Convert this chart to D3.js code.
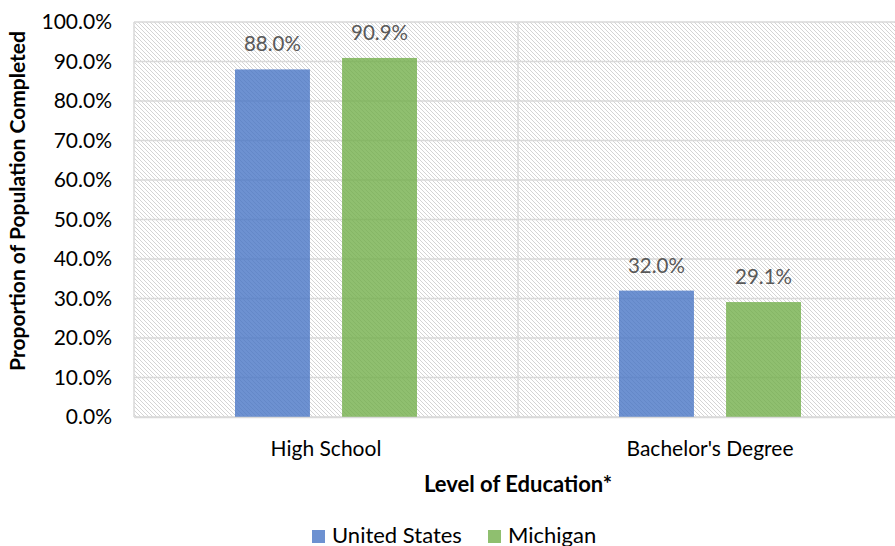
<!DOCTYPE html>
<head>
  <meta charset="utf-8">
  <script src="https://d3js.org/d3.v7.min.js"></script>
  <style>
    body { margin:0; background:#fff; }
    text { font-family: Lato, "Open Sans", sans-serif; }
  </style>
</head>
<body>
  <script>
    // data
    var categories = ["High School", "Bachelor's Degree"];
    var seriesNames = ["United States", "Michigan"];
    var unitedStates = [0.880, 0.320];
    var michigan = [0.909, 0.291];
    var yTicks = [0, 0.1, 0.2, 0.3, 0.4, 0.5, 0.6, 0.7, 0.8, 0.9, 1.0];

    var colors = ["#4472C4", "#70AD47"];

    var width = 895, height = 546;
    var margin = {top: 22, right: -7, bottom: 129, left: 134};

    var svg = d3.select("body").append("svg")
      .attr("width", width)
      .attr("height", height);

    var defs = svg.append("defs");
    var pat = defs.append("pattern")
      .attr("id", "hatch")
      .attr("patternUnits", "userSpaceOnUse")
      .attr("width", 4).attr("height", 4);
    pat.append("rect").attr("width", 4).attr("height", 4).attr("fill", "#fff");
    pat.append("path")
      .attr("d", "M-1,-1 L5,5 M-1,3 L1,5 M3,-1 L5,1")
      .attr("stroke", "#d4d4d4")
      .attr("stroke-width", 1);

    var x0 = d3.scaleBand()
      .domain(categories)
      .range([margin.left, width - margin.right]);

    var x1 = d3.scaleBand()
      .domain(seriesNames)
      .range([0, 182])
      .paddingInner(0.3);

    var y = d3.scaleLinear()
      .domain([0, 1])
      .range([height - margin.bottom, margin.top]);

    // plot background
    svg.append("rect")
      .attr("x", margin.left)
      .attr("y", margin.top)
      .attr("width", width - margin.right - margin.left)
      .attr("height", y(0) - y(1))
      .attr("fill", "url(#hatch)");

    // horizontal gridlines
    svg.append("g").selectAll("line").data(yTicks).enter().append("line")
      .attr("x1", margin.left)
      .attr("x2", width - margin.right)
      .attr("y1", function(d){ return y(d); })
      .attr("y2", function(d){ return y(d); })
      .attr("stroke", "#d9d9d9")
      .attr("stroke-width", 1.5);

    // vertical gridlines between categories
    var vLines = [margin.left, x0(categories[1])];
    svg.append("g").selectAll("line").data(vLines).enter().append("line")
      .attr("x1", function(d){ return d; })
      .attr("x2", function(d){ return d; })
      .attr("y1", y(1))
      .attr("y2", y(0))
      .attr("stroke", "#d9d9d9")
      .attr("stroke-width", 1.5);

    // bars
    var rows = categories.map(function(c, i){
      return [
        {cat: c, name: seriesNames[0], value: unitedStates[i], color: colors[0]},
        {cat: c, name: seriesNames[1], value: michigan[i], color: colors[1]}
      ];
    });
    var groups = svg.append("g").selectAll("g").data(rows).enter().append("g")
      .attr("transform", function(d){
        return "translate(" + (x0(d[0].cat) + x0.bandwidth() / 2 - 91) + ",0)";
      });

    groups.selectAll("rect").data(function(d){ return d; }).enter().append("rect")
      .attr("x", function(d){ return x1(d.name); })
      .attr("y", function(d){ return y(d.value); })
      .attr("width", x1.bandwidth())
      .attr("height", function(d){ return y(0) - y(d.value); })
      .attr("fill", function(d){ return d.color; })
      .attr("fill-opacity", 0.78);

    groups.selectAll("text").data(function(d){ return d; }).enter().append("text")
      .attr("x", function(d){ return x1(d.name) + x1.bandwidth() / 2; })
      .attr("y", function(d){ return y(d.value) - 18; })
      .attr("text-anchor", "middle")
      .attr("fill", "#595959")
      .style("font-size", "20.5px")
      .text(function(d){ return d3.format(".1%")(d.value); });

    // y axis labels
    var yAxis = d3.axisLeft(y).tickValues(yTicks).tickFormat(d3.format(".1%")).tickSize(0).tickPadding(22);
    var ya = svg.append("g")
      .attr("transform", "translate(" + margin.left + ",0)")
      .call(yAxis);
    ya.select(".domain").remove();
    ya.selectAll("text")
      .style("font-size", "21px")
      .style("font-family", "Lato, sans-serif")
      .attr("fill", "#000");

    // x axis labels
    var xAxis = d3.axisBottom(x0).tickSize(0);
    var xa = svg.append("g")
      .attr("transform", "translate(0," + y(0) + ")")
      .call(xAxis);
    xa.select(".domain").attr("stroke", "#d9d9d9").attr("stroke-width", 1.5);
    xa.selectAll("text")
      .attr("y", 39)
      .attr("dy", 0)
      .style("font-size", "21px")
      .style("font-family", "Lato, sans-serif")
      .attr("fill", "#000");

    // axis titles
    svg.append("text")
      .attr("transform", "translate(25,201) rotate(-90)")
      .attr("text-anchor", "middle")
      .style("font-size", "21px")
      .style("font-weight", "bold")
      .text("Proportion of Population Completed");

    svg.append("text")
      .attr("x", (margin.left + width - margin.right) / 2)
      .attr("y", 492)
      .attr("text-anchor", "middle")
      .style("font-size", "22px")
      .style("font-weight", "bold")
      .text("Level of Education*");

    // legend
    var legendX = [312, 488];
    var legend = svg.append("g").selectAll("g").data(seriesNames).enter().append("g")
      .attr("transform", function(d, i){ return "translate(" + legendX[i] + ",530)"; });
    legend.append("rect")
      .attr("width", 13).attr("height", 13)
      .attr("fill", function(d, i){ return colors[i]; })
      .attr("fill-opacity", 0.78);
    legend.append("text")
      .attr("x", 20)
      .attr("y", 13)
      .style("font-size", "22px")
      .text(function(d){ return d; });
  </script>
</body>
